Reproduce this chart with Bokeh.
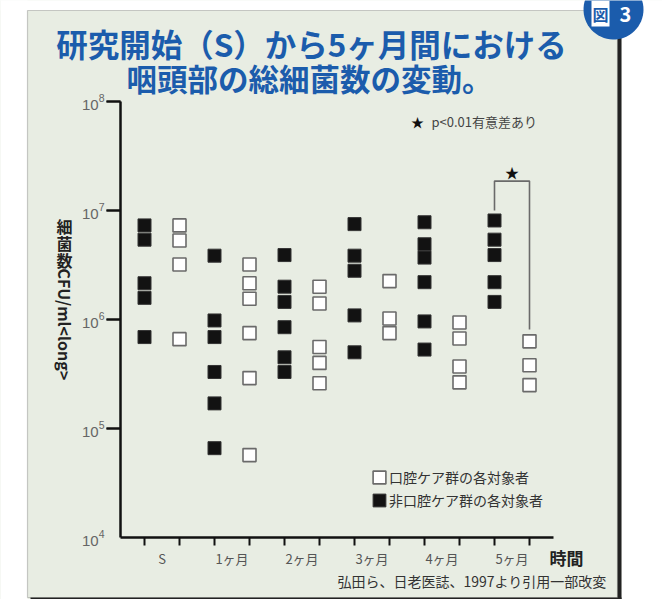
import numpy as np
from bokeh.plotting import figure
from bokeh.models import (FixedTicker, Label, BoxAnnotation, PolyAnnotation,
                          Legend, LegendItem, LinearAxis, LogAxis)
from bokeh.core.properties import value
from bokeh.embed import file_html
from bokeh.resources import INLINE

# ---------------- data ----------------
categories = ["S", "1ヶ月", "2ヶ月", "3ヶ月", "4ヶ月", "5ヶ月"]

# 非口腔ケア群 (filled squares), CFU/ml
noncare_S  = [7.3e6, 5.4e6, 2.15e6, 1.58e6, 6.9e5]
noncare_1m = [3.85e6, 9.8e5, 6.9e5, 3.3e5, 1.7e5, 6.6e4]
noncare_2m = [3.9e6, 2.0e6, 1.45e6, 8.5e5, 4.5e5, 3.3e5]
noncare_3m = [7.5e6, 3.85e6, 2.8e6, 1.09e6, 5.0e5]
noncare_4m = [7.8e6, 4.9e6, 3.7e6, 2.2e6, 9.6e5, 5.3e5]
noncare_5m = [8.1e6, 5.4e6, 3.9e6, 2.2e6, 1.45e6]

# 口腔ケア群 (open squares), CFU/ml
care_S  = [7.3e6, 5.3e6, 3.2e6, 6.6e5]
care_1m = [3.2e6, 2.15e6, 1.55e6, 7.5e5, 2.9e5, 5.7e4]
care_2m = [2.0e6, 1.4e6, 5.6e5, 4.0e5, 2.6e5]
care_3m = [2.25e6, 1.02e6, 7.5e5]
care_4m = [9.4e5, 6.7e5, 3.7e5, 2.65e5]
care_5m = [6.3e5, 3.8e5, 2.5e5]

noncare = [noncare_S, noncare_1m, noncare_2m, noncare_3m, noncare_4m, noncare_5m]
care = [care_S, care_1m, care_2m, care_3m, care_4m, care_5m]

y_ticks = [1e4, 1e5, 1e6, 1e7, 1e8]
legend_labels = ["口腔ケア群の各対象者", "非口腔ケア群の各対象者"]

# significance bracket at 5ヶ月 (data coordinates)
bracket_x = [4.75, 4.75, 5.25, 5.25]
bracket_y = [1.0e7, 1.86e7, 1.86e7, 8.1e5]
star_x = [5.0]
star_y = [2.25e7]

title_lines = ["研究開始（S）から5ヶ月間における", "咽頭部の総細菌数の変動。"]
y_title_upright = ["細", "菌", "数"]
y_title_rotated = "CFU/ml<long>"
note_text = "p<0.01有意差あり"
x_title = "時間"
source_text = "弘田ら、日老医誌、1997より引用一部改変"

# ---------------- figure ----------------
JP = "Noto Sans CJK JP"
CARD = "#e8ede3"
BLUE = "#1b5cac"
INK = "#111111"
W, H = 662, 599

# pixel layout of the axes box inside the canvas
AX_L, AX_R, AX_T, AX_B = 120, 553, 101, 537
X0_PX, X_STEP = 161.5, 70.0           # centre of first category, px per category
DEC = (AX_B - AX_T) / 4.0             # px per decade
Y_TICK_LEN = 14                       # px

x_lo = (0 - X0_PX) / X_STEP
x_hi = (W - X0_PX) / X_STEP
y_hi = 10 ** (8 + AX_T / DEC)
y_lo = 10 ** (4 - (H - AX_B) / DEC)
x_axis_start = (AX_L - X0_PX) / X_STEP
x_axis_end = (AX_R - X0_PX) / X_STEP

p = figure(width=W, height=H, x_range=(x_lo, x_hi), y_range=(y_lo, y_hi),
           y_axis_type="log", output_backend="svg", toolbar_location=None,
           min_border=0, title=None)
p.background_fill_color = CARD
p.border_fill_color = "white"
p.outline_line_color = None
p.grid.visible = False


def sy(y):
    return H - y


def sbox(l, r, t, b, **kw):
    bx = BoxAnnotation(left=l, right=r, top=sy(t), bottom=sy(b),
                       left_units="screen", right_units="screen",
                       top_units="screen", bottom_units="screen", **kw)
    p.add_layout(bx)
    return bx


# page margins outside the card, card shadow and card border
sbox(0, 27, -2, 601, fill_color="white", fill_alpha=1, line_color=None)
sbox(0, 664, -2, 10, fill_color="white", fill_alpha=1, line_color=None)
sbox(621, 664, -2, 601, fill_color="white", fill_alpha=1, line_color=None)
sbox(617, 621, 13, 601, fill_color="#222222", fill_alpha=1, line_color=None)
sbox(30, 621, 597, 601, fill_color="#222222", fill_alpha=1, line_color=None)
sbox(27, 617, 10, 597, fill_alpha=0, line_color="#555555", line_width=1.2)

# ---------------- axes ----------------
# label for 10^4 only (no tick there in the original)
y4 = LogAxis(fixed_location=x_axis_start, bounds=(y_ticks[0], y_ticks[-1]),
             ticker=FixedTicker(ticks=y_ticks[:1]), major_tick_out=0, major_tick_in=0,
             minor_tick_line_color=None, axis_line_color=None,
             major_label_standoff=Y_TICK_LEN + 2, major_label_text_font="Liberation Sans",
             major_label_text_font_size="15px", major_label_text_color="#666666")
p.add_layout(y4, "left")

# main y axis: line, ticks and labels 10^5..10^8
yax = p.yaxis[0]
yax.fixed_location = x_axis_start
yax.bounds = (y_ticks[0], y_ticks[-1])
yax.ticker = FixedTicker(ticks=y_ticks[1:])
yax.major_tick_out = Y_TICK_LEN
yax.major_tick_in = 0
yax.major_tick_line_width = 2
yax.major_tick_line_color = INK
yax.minor_tick_line_color = None
yax.axis_line_width = 2.5
yax.axis_line_color = INK
yax.major_label_standoff = 2
yax.major_label_text_font = "Liberation Sans"
yax.major_label_text_font_size = "15px"
yax.major_label_text_color = "#666666"

# same tick marks, also drawn through the y scale
n_t = len(y_ticks) - 1
p.segment(x0=[x_axis_start] * n_t, y0=y_ticks[1:],
          x1=[x_axis_start - Y_TICK_LEN / X_STEP] * n_t, y1=y_ticks[1:],
          line_color=INK, line_width=2)

# x axis: line + ticks under each column of squares
xax = p.xaxis[0]
xax.fixed_location = y_ticks[0]
xax.bounds = (x_axis_start, x_axis_end)
xax.ticker = FixedTicker(ticks=[k + d for k in range(len(categories)) for d in (-0.25, 0.25)])
xax.major_tick_out = 8
xax.major_tick_in = 0
xax.major_tick_line_width = 2
xax.major_tick_line_color = INK
xax.minor_tick_line_color = None
xax.axis_line_width = 2.5
xax.axis_line_color = INK
xax.major_label_text_color = None

# category labels, centred between the two columns
xl = LinearAxis(fixed_location=y_ticks[0], bounds=(x_axis_start, x_axis_end),
                ticker=FixedTicker(ticks=list(range(len(categories)))),
                major_label_overrides={i: c for i, c in enumerate(categories)},
                major_tick_out=0, major_tick_in=0, minor_tick_line_color=None,
                axis_line_color=None, major_label_standoff=11,
                major_label_text_font=JP, major_label_text_font_size="13px",
                major_label_text_color="#555555")
p.add_layout(xl, "below")

# ---------------- data marks ----------------
nx, ny, cx, cy = [], [], [], []
for k in range(len(categories)):
    nx += [k - 0.25] * len(noncare[k]); ny += noncare[k]
    cx += [k + 0.25] * len(care[k]); cy += care[k]

p.scatter(x=nx, y=ny, marker="square", size=13, fill_color="#121212",
          line_color="#333333", line_width=1)
p.scatter(x=cx, y=cy, marker="square", size=13, fill_color="white",
          line_color="#6a6a6a", line_width=1.6)

# bracket + star
p.line(x=bracket_x, y=bracket_y, line_color="#6a6a6a", line_width=1.6)
p.text(x=star_x, y=star_y, text=["★"], text_align="center", text_baseline="middle",
       text_font=value(JP), text_font_size="14px", text_color=INK)

# legend (area-glyph proxies, not drawn, so the legend squares match the marks)
r_open = p.quad(left=[np.nan], right=[np.nan], top=[np.nan], bottom=[np.nan],
                fill_color="white", line_color="#6a6a6a", line_width=1.6)
r_fill = p.quad(left=[np.nan], right=[np.nan], top=[np.nan], bottom=[np.nan],
                fill_color="#121212", line_color="#333333", line_width=1)
legend = Legend(items=[LegendItem(label=legend_labels[0], renderers=[r_open]),
                       LegendItem(label=legend_labels[1], renderers=[r_fill])],
                location=(371, sy(510)), glyph_width=16, glyph_height=16,
                label_height=16, spacing=3, padding=0, margin=0, label_standoff=2,
                border_line_color=None, background_fill_alpha=0,
                label_text_font=JP, label_text_font_size="14px",
                label_text_color="#333333")
p.add_layout(legend)

# ---------------- texts ----------------
def label(text, x, y, size, color="#333333", bold=False, align="left",
          baseline="middle", font=JP, angle=0, **kw):
    lb = Label(x=x, y=sy(y), x_units="screen", y_units="screen", text=text,
               text_font=font, text_font_size=size, text_color=color,
               text_font_style="bold" if bold else "normal", text_align=align,
               text_baseline=baseline, angle=angle, **kw)
    p.add_layout(lb)
    return lb

# title
label(title_lines[0], 311, 42, "31.5px", color=BLUE, bold=True, align="center")
label(title_lines[1], 309, 77, "30.5px", color=BLUE, bold=True, align="center")

# badge 図3
th = np.linspace(0, 2 * np.pi, 64)
badge = PolyAnnotation(xs=list(613 + 30 * np.cos(th)), ys=list(sy(9 + 30 * np.sin(th))),
                       xs_units="screen", ys_units="screen", fill_color=BLUE,
                       fill_alpha=1, line_color=None)
p.add_layout(badge)
label("図", 600, 13, "16px", color=BLUE, bold=True, align="center",
      background_fill_color="white", padding=1)
label("3", 625, 14, "20px", color="white", bold=True, align="center")

# y-axis title (vertical writing)
for i, ch in enumerate(y_title_upright):
    label(ch, 64, 225 + 17 * i, "16px", color="#222222", bold=True, align="center")
label(y_title_rotated, 64, 268, "16px", color="#222222", bold=True, align="left",
      angle=-np.pi / 2)

# significance note
label("★", 417, 121, "13px", color=INK, align="center")
label(note_text, 431, 121, "13px", color="#444444")

# x title and source
label(x_title, 566, 557, "17px", color="#222222", bold=True, align="center")
label(source_text, 606, 580, "14px", color="#333333", align="right")

open("out.html", "w").write(file_html(p, INLINE))
